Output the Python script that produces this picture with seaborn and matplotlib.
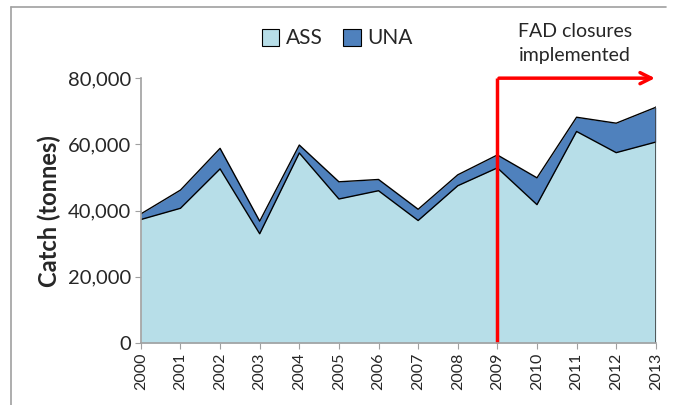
import numpy as np
import pandas as pd
import matplotlib.pyplot as plt
import seaborn as sns
from matplotlib.patches import Patch
from matplotlib.lines import Line2D

# Data
years = list(range(2000, 2014))
ass = [37300, 40700, 52600, 33000, 57400, 43500, 46000, 37000, 47500, 52900, 41800, 63900, 57500, 60700]
una = [1700, 5500, 6200, 3800, 2400, 5200, 3400, 3400, 3300, 3900, 8100, 4300, 8900, 10500]
labels = ["ASS", "UNA"]
colors = ["#B7DEE8", "#4F81BD"]

df = pd.DataFrame({"year": years, "ASS": ass, "UNA": una})
df["total"] = df["ASS"] + df["UNA"]

sns.set_style("white")
plt.rcParams["font.family"] = ["Lato", "DejaVu Sans"]

fig = plt.figure(figsize=(6.74, 4.05), dpi=100)
ax = fig.add_axes([0.209, 0.153, 0.764, 0.654])

ax.fill_between(df["year"], df["ASS"], df["total"], color=colors[1], lw=0)
ax.fill_between(df["year"], 0, df["ASS"], color=colors[0], lw=0)
sns.lineplot(data=df, x="year", y="total", color="black", lw=1, ax=ax)
sns.lineplot(data=df, x="year", y="ASS", color="black", lw=1, ax=ax)
ax.plot([2013, 2013], [0, df["total"].iloc[-1]], color="#404040", lw=1.2)

ax.set_xlim(2000, 2013)
ax.set_ylim(0, 80000)
ax.set_xticks(years)
ax.set_xticklabels([str(y) for y in years], rotation=90, fontsize=11.5)
ax.set_yticks(np.arange(0, 80001, 20000))
ax.set_yticklabels([f"{v:,}" for v in range(0, 80001, 20000)], fontsize=14.5)
ax.set_xlabel("")
ax.set_ylabel("Catch (tonnes)", fontsize=17, fontweight="bold", labelpad=5)
ax.tick_params(axis="both", which="both", length=4, color="#A0A0A0", direction="out",
               bottom=True, left=True, pad=3)

for s in ["top", "right"]:
    ax.spines[s].set_visible(False)
for s in ["left", "bottom"]:
    ax.spines[s].set_color("#A0A0A0")
    ax.spines[s].set_linewidth(1.2)

# FAD closure marker
ax.plot([2009, 2009], [0, 80000], color="red", lw=2.5, clip_on=False, solid_capstyle="butt")
ax.annotate("", xy=(2013.05, 80000), xytext=(2008.97, 80000),
            arrowprops=dict(arrowstyle="->", color="red", lw=2.5, mutation_scale=20),
            annotation_clip=False)
fig.text(0.853, 0.843, "FAD closures\nimplemented", ha="center", va="bottom",
         fontsize=14, linespacing=1.45)

handles = [Patch(facecolor=c, edgecolor="black", lw=0.8) for c in colors]
fig.legend(handles, labels, loc="center", bbox_to_anchor=(0.5, 0.905), ncol=2,
           frameon=False, fontsize=15, handlelength=0.85, handleheight=0.85,
           handletextpad=0.3, columnspacing=1.0)

# chart border
fig.add_artist(Line2D([0.017, 0.017], [0, 0.983], color="#A0A0A0", lw=1.2))
fig.add_artist(Line2D([0.017, 0.988], [0.983, 0.983], color="#A0A0A0", lw=1.2))

plt.savefig("out.png", dpi=100)
